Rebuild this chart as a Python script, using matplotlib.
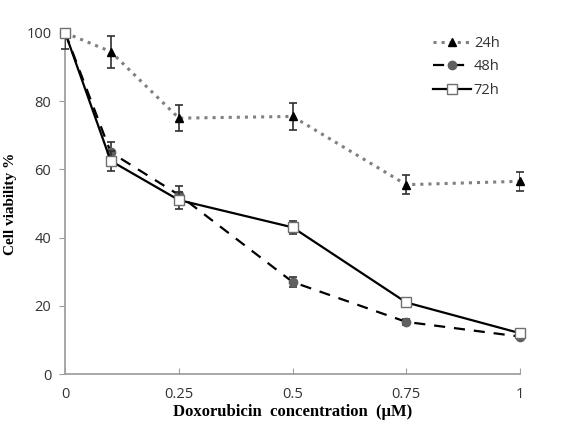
import numpy as np
import matplotlib.pyplot as plt
from matplotlib.lines import Line2D

# data
conc = [0, 0.1, 0.25, 0.5, 0.75, 1]

via_24h = [100, 94.5, 75, 75.5, 55.5, 56.5]
err_24h = [0, 4.7, 3.8, 3.9, 2.8, 2.8]

via_48h = [100, 65, 52.5, 27, 15.3, 11]
err_48h = [0, 3.0, 2.5, 1.5, 0.8, 0.8]

via_72h = [100, 62.5, 51, 43, 21, 12]
err_72h = [4.7, 3.0, 2.5, 2.0, 0.8, 0.8]

xticks = [0, 0.25, 0.5, 0.75, 1]
xtick_labels = ["0", "0.25", "0.5", "0.75", "1"]
yticks = [0, 20, 40, 60, 80, 100]

fig = plt.figure(figsize=(5.67, 4.32), dpi=100)
ax = fig.add_axes([0.115, 0.134, 0.802, 0.79])

err_kw = dict(ecolor="#303030", elinewidth=1.2, capsize=3, capthick=1.2)

# only lower half of error bars at x=0 is visible (clipped at 100)
def lower_only(err):
    return [err, [0] + list(err[1:])]

styles = {
    "24h": dict(color="#808080", linestyle=":", linewidth=2.2, marker="^",
                markersize=6, markerfacecolor="black", markeredgecolor="black"),
    "48h": dict(color="black", linestyle=(0, (5, 4)), linewidth=1.6, marker="o",
                markersize=6, markerfacecolor="#606060", markeredgecolor="#606060"),
    "72h": dict(color="black", linestyle="-", linewidth=1.6, marker="s",
                markersize=7, markerfacecolor="white", markeredgecolor="#707070"),
}

ax.errorbar(conc, via_24h, yerr=lower_only(err_24h), zorder=3,
            **styles["24h"], **err_kw)
ax.errorbar(conc, via_48h, yerr=lower_only(err_48h), zorder=3,
            **styles["48h"], **err_kw)
ax.errorbar(conc, via_72h, yerr=lower_only(err_72h), zorder=4,
            **styles["72h"], **err_kw)

ax.set_xlim(0, 1)
ax.set_ylim(0, 100)
ax.set_xticks(xticks)
ax.set_xticklabels(xtick_labels)
ax.set_yticks(yticks)

for s in ["top", "right"]:
    ax.spines[s].set_visible(False)
for s in ["left", "bottom"]:
    ax.spines[s].set_color("#a0a0a0")
    ax.spines[s].set_linewidth(1.3)

ax.tick_params(axis="x", direction="in", length=4, color="#a0a0a0",
               labelsize=10.5, labelcolor="#333333", pad=9)
ax.tick_params(axis="y", direction="out", length=4, color="#a0a0a0",
               labelsize=10.5, labelcolor="#333333", pad=6)
for lab in ax.get_xticklabels() + ax.get_yticklabels():
    lab.set_fontfamily("Open Sans")

for line in ax.lines:
    line.set_clip_on(False)

ax.set_xlabel("Doxorubicin  concentration  (\u00b5M)", family="Liberation Serif",
              fontweight="bold", fontsize=12, labelpad=2)
ax.set_ylabel("Cell viability %", family="Liberation Serif",
              fontweight="bold", fontsize=11)
ax.yaxis.set_label_coords(-0.105, 0.5)

handles = [Line2D([], [], label=k, **v) for k, v in styles.items()]
leg = ax.legend(handles=handles, loc="upper left", bbox_to_anchor=(0.78, 1.03),
                frameon=False, handlelength=2.6, handletextpad=0.2,
                labelspacing=0.6, prop={"family": "Open Sans", "size": 10.5})
for t in leg.get_texts():
    t.set_color("#333333")

plt.savefig("out.png", dpi=100)
